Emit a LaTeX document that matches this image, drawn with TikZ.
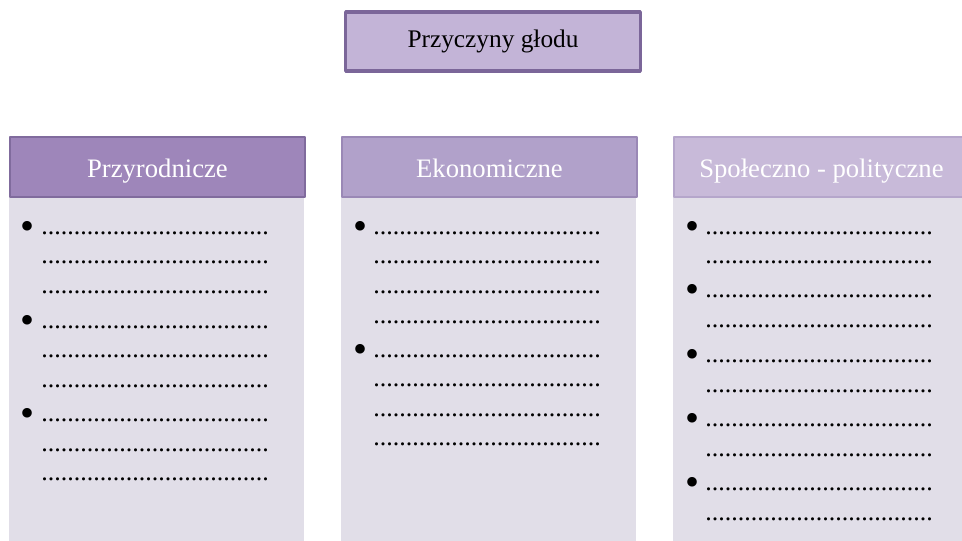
\documentclass[tikz,border=0pt]{standalone}
\usepackage{fontspec}
\setmainfont{Liberation Serif}
\usepackage{xcolor}
\usepackage{tikz}
\usetikzlibrary{positioning}
\definecolor{glFrame}{HTML}{7B6699}
\definecolor{glTitle}{HTML}{C3B4D7}
\definecolor{glHeadA}{HTML}{9E86BA}
\definecolor{glEdgeA}{HTML}{806B9D}
\definecolor{glHeadB}{HTML}{B1A1CA}
\definecolor{glEdgeB}{HTML}{9A88B6}
\definecolor{glHeadC}{HTML}{C8BAD9}
\definecolor{glEdgeC}{HTML}{B5A6CB}
\definecolor{glBody}{HTML}{E1DEE8}
\definecolor{glInk}{HTML}{000000}
\newcommand{\gldots}{...................................}
\tikzset{
  gl diagram/.style={text=glInk, line join=round},
  gl title/.style={draw=glFrame, fill=glTitle, line width=2.6pt,
    minimum width=221pt, minimum height=44pt, inner sep=0pt,
    text height=13pt, text depth=4.5pt,
    font=\fontsize{19}{23}\selectfont},
  gl header/.style={line width=1.4pt, text=white, anchor=north west,
    minimum width=221.25pt, minimum height=45pt, inner sep=0pt,
    text height=20.5pt, text depth=4pt,
    font=\fontsize{20}{24}\selectfont},
  gl body/.style={fill=glBody, anchor=north west, inner sep=0pt,
    minimum width=221.25pt, minimum height=270pt},
  gl dots/.style={anchor=base west, inner sep=0pt,
    font=\fontsize{19.5}{23}\selectfont},
  gl bullet/.style={inner sep=0pt, font=\fontsize{30}{30}\selectfont}
}
\begin{document}
\begin{tikzpicture}[gl diagram, x=0.75pt, y=-0.75pt]
\useasboundingbox (0,0) rectangle (962,541);
\clip (0,0) rectangle (962,541);
\node[gl title] (title) at (493,41.5) {Przyczyny głodu};
% columns: bodies first, headers on top
\node[gl body] (natBody) at (9,196) {};
\node[gl body] (ecoBody) at (341,196) {};
\node[gl body] (polBody) at (673,196) {};
\node[gl header, fill=glHeadA, draw=glEdgeA] (natHead) at (9,136) {Przyrodnicze};
\node[gl header, fill=glHeadB, draw=glEdgeB] (ecoHead) at (341,136) {Ekonomiczne};
\node[gl header, fill=glHeadC, draw=glEdgeC] (polHead) at (673,136) {Społeczno - polityczne};
% Przyrodnicze
\foreach \row [count=\i] in {233,262.5,292,326.5,356,385.5,420,449.5,479}
  \node[gl dots] (natLine\i) at (41,\row+1.5) {\gldots};
\foreach \row [count=\i] in {233,326.5,420}
  \node[gl bullet] (natDot\i) at (28,\row-2.5) {•};
% Ekonomiczne
\foreach \row [count=\i] in {233,262.5,292,321.5,355.5,385,414.5,444}
  \node[gl dots] (ecoLine\i) at (373,\row+1.5) {\gldots};
\foreach \row [count=\i] in {233,355.5}
  \node[gl bullet] (ecoDot\i) at (360,\row-2.5) {•};
% Spoleczno - polityczne
\foreach \row [count=\i] in {233,262.5,296,325.5,361,390.5,425,455,489,519}
  \node[gl dots] (polLine\i) at (705,\row+1.5) {\gldots};
\foreach \row [count=\i] in {233,296,361,425,489}
  \node[gl bullet] (polDot\i) at (692,\row-2.5) {•};
\end{tikzpicture}
\end{document}
